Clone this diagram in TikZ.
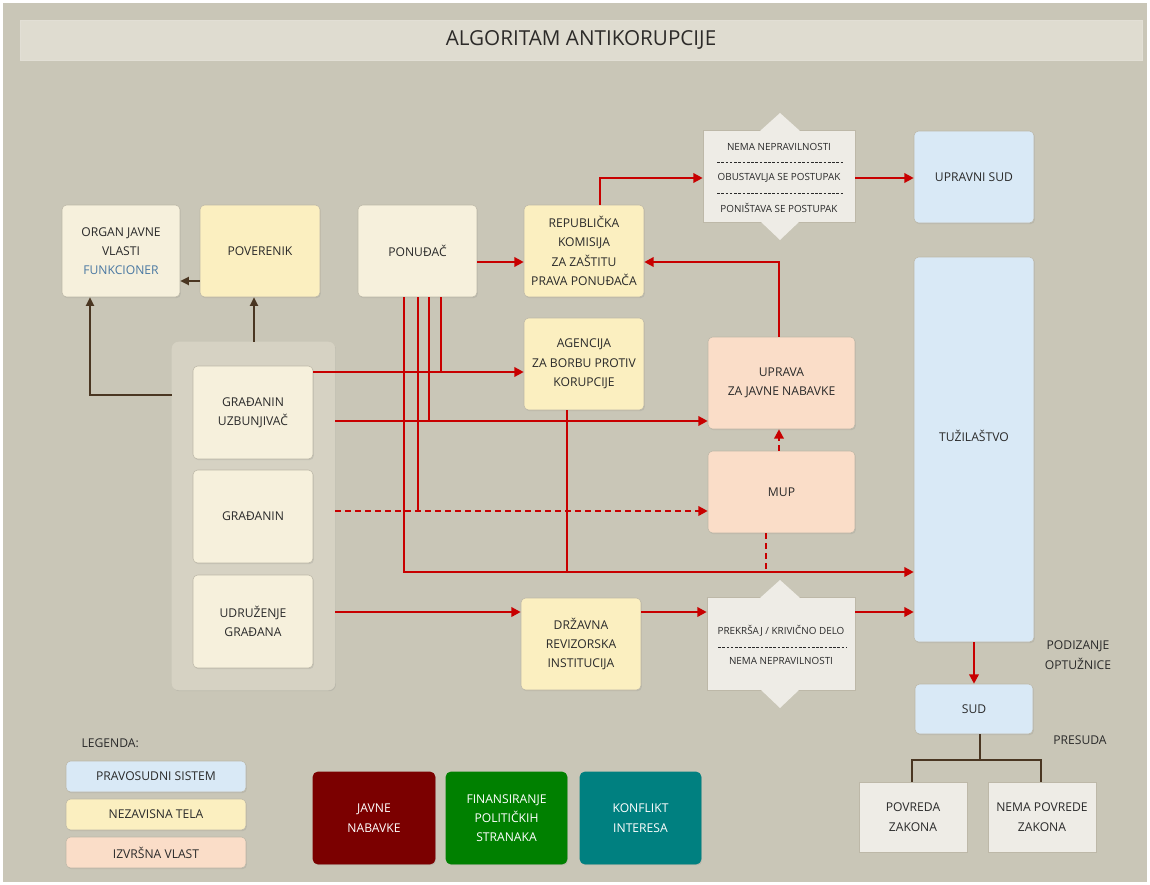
\documentclass[tikz,border=0pt]{standalone}
\usepackage{fontspec}
\setmainfont{Open Sans}
\usetikzlibrary{arrows.meta,shadows,calc}
\definecolor{bgc}{HTML}{C9C6B7}
\definecolor{titlec}{HTML}{DFDCD0}
\definecolor{grpc}{HTML}{D6D2C3}
\definecolor{cream}{HTML}{F6F0DC}
\definecolor{yell}{HTML}{FBEFC0}
\definecolor{peach}{HTML}{FADDC8}
\definecolor{blu}{HTML}{D9E9F6}
\definecolor{gryb}{HTML}{EEECE6}
\definecolor{redc}{HTML}{C80000}
\definecolor{brn}{HTML}{4A3622}
\definecolor{txt}{HTML}{2A2A2A}
\definecolor{funk}{HTML}{4A78A2}
\definecolor{bord}{HTML}{BDB8A8}
\definecolor{jnc}{HTML}{7B0000}
\definecolor{finc}{HTML}{008000}
\definecolor{kic}{HTML}{008080}
\newcommand{\mybody}{\fontsize{9.1}{14.5}\selectfont}
\newcommand{\mysmall}{\fontsize{7.4}{9}\selectfont}
\tikzset{
  bx/.style={rounded corners=3.5pt, draw=bord, line width=0.4pt, align=center, text=txt,
    font=\mybody, inner sep=2pt,
    drop shadow={shadow xshift=0.7pt, shadow yshift=-0.9pt, opacity=0.2}},
  sz/.style 2 args={minimum width=#1*0.75pt, minimum height=#2*0.75pt},
  rl/.style={draw=redc, line width=2.1pt},
  ra/.style={rl, -{Triangle[length=7pt,width=7pt]}},
  bl/.style={draw=brn, line width=1.9pt},
  ba/.style={bl, -{Triangle[length=6.5pt,width=6pt]}},
  dsh/.style={dash pattern=on 4.5pt off 3pt},
  sep/.style={draw=txt, line width=0.6pt, dash pattern=on 2pt off 1.2pt},
  lbl/.style={text=txt, font=\mybody, align=center, inner sep=1pt},
  sml/.style={text=txt, font=\mysmall, inner sep=1pt},
}
\begin{document}
\begin{tikzpicture}[x=0.75pt,y=-0.75pt]
\fill[white] (0,0) rectangle (1150,885);
\useasboundingbox (0,0) rectangle (1150,885);
\fill[bgc] (3,3) rectangle (1147,882);
% title
\node[fill=titlec, draw=titlec!90!white, sz={1122}{40}, inner sep=0pt, text=txt!90!brn,
  font=\fontsize{15.5}{17}\selectfont] (title) at (581,40) {ALGORITAM ANTIKORUPCIJE};

% helper coordinates
\foreach \v in {90,254,404,418,429,441,567,600,766,779,912,980,1041}
  \coordinate (v\v) at (\v,0);
\foreach \h in {178,262,281,372,395,421,511,572,612,760}
  \coordinate (h\h) at (0,\h);

% top row
\node[bx, fill=cream, sz={118}{92}] (organ) at (121,251)
  {ORGAN JAVNE\\VLASTI\\{\color{funk}FUNKCIONER}};
\node[bx, fill=yell, sz={120}{92}] (pov) at (260,251) {POVERENIK};
\node[bx, fill=cream, sz={119}{92}] (pon) at (417.5,251) {PONUĐAČ};
\node[bx, fill=yell, sz={120}{92}] (rep) at (584,251)
  {REPUBLIČKA\\KOMISIJA\\ZA ZAŠTITU\\PRAVA PONUĐAČA};

% decision box 1
\node[bx, fill=gryb, sz={152}{92}, rounded corners=0pt] (nema) at (779,176) {};
\fill[gryb] (760,131) -- (780,113) -- (800,131) -- cycle;
\fill[gryb] (760,221) -- (780,240) -- (800,221) -- cycle;
\node[sml] (n1) at (779,146.5) {NEMA NEPRAVILNOSTI};
\node[sml] (n2) at (779,178) {OBUSTAVLJA SE POSTUPAK};
\node[sml] (n3) at (779,208) {PONIŠTAVA SE POSTUPAK};
\draw[sep] (717,162.5) -- (843,162.5);
\draw[sep] (717,193) -- (843,193);

\node[bx, fill=blu, sz={120}{92}] (upsud) at (974,177) {UPRAVNI SUD};
\node[bx, fill=blu, sz={120}{385}] (tuz) at (974,449.5) {};
\node[lbl] (tuzt) at (974,436) {TUŽILAŠTVO};

\node[bx, fill=yell, sz={120}{92}] (agen) at (584,364)
  {AGENCIJA\\ZA BORBU PROTIV\\KORUPCIJE};
\node[bx, fill=peach, sz={147}{92}] (uprava) at (781.5,383)
  {UPRAVA\\ZA JAVNE NABAVKE};
\node[bx, fill=peach, sz={147}{82}] (mup) at (781.5,492) {MUP};

% citizens group
\node[bx, fill=grpc, draw=grpc, sz={163}{348}, rounded corners=5pt] (group) at (253.5,516) {};
\node[bx, fill=cream, sz={120}{93}] (gu) at (253,412.5) {GRAĐANIN\\UZBUNJIVAČ};
\node[bx, fill=cream, sz={120}{93}] (gr) at (253,516.5) {GRAĐANIN};
\node[bx, fill=cream, sz={120}{93}] (ud) at (253,621.5) {UDRUŽENJE\\GRAĐANA};

\node[bx, fill=yell, sz={120}{92}] (drz) at (581,644)
  {DRŽAVNA\\REVIZORSKA\\INSTITUCIJA};

% decision box 2
\node[bx, fill=gryb, sz={148}{93}, rounded corners=0pt] (prek) at (781,643.5) {};
\fill[gryb] (760,598) -- (780,580) -- (800,598) -- cycle;
\fill[gryb] (760,689) -- (780,708) -- (800,689) -- cycle;
\node[sml] (p1) at (781,631) {PREKRŠAJ / KRIVIČNO DELO};
\node[sml] (p2) at (781,661) {NEMA NEPRAVILNOSTI};
\draw[sep] (718,647.5) -- (847,647.5);

\node[bx, fill=blu, sz={118}{50}] (sud) at (974,709) {SUD};
\node[lbl] (podiz) at (1078,655) {PODIZANJE\\OPTUŽNICE};
\node[lbl] (presuda) at (1080,740) {PRESUDA};
\node[bx, fill=gryb, sz={108}{70}, rounded corners=0pt] (povz) at (913,817) {POVREDA\\ZAKONA};
\node[bx, fill=gryb, sz={108}{70}, rounded corners=0pt] (nemapz) at (1042,817) {NEMA POVREDE\\ZAKONA};

% legend
\node[lbl, anchor=west] (leg) at (80,743) {LEGENDA:};
\node[bx, fill=blu, sz={180}{31}] (l1) at (156,776.5) {PRAVOSUDNI SISTEM};
\node[bx, fill=yell, sz={180}{31}] (l2) at (156,814.5) {NEZAVISNA TELA};
\node[bx, fill=peach, sz={180}{31}] (l3) at (156,852.5) {IZVRŠNA VLAST};

\node[bx, fill=jnc, draw=jnc, text=white, sz={122}{92}] (jn) at (374,818) {JAVNE\\NABAVKE};
\node[bx, fill=finc, draw=finc, text=white, sz={121}{92}] (fin) at (506.5,818)
  {FINANSIRANJE\\POLITIČKIH\\STRANAKA};
\node[bx, fill=kic, draw=kic, text=white, sz={121}{92}] (ki) at (640.5,818) {KONFLIKT\\INTERESA};

% brown connectors
\draw[ba] (pov.west |- h281) -- (organ.east |- h281);
\draw[ba] (group.west |- h395) -| (organ.south -| v90);
\draw[ba] (group.north -| v254) -- (pov.south -| v254);
\draw[bl] (sud.south -| v980) -- (v980 |- h760);
\draw[bl] (povz.north -| v912) |- (v1041 |- h760) -- (nemapz.north -| v1041);

% red connectors
\draw[ra] (pon.east |- h262) -- (rep.west |- h262);
\draw[ra] (rep.north -| v600) |- (nema.west |- h178);
\draw[ra] (nema.east |- h178) -- (upsud.west |- h178);
\draw[ra] (uprava.north -| v779) |- (rep.east |- h262);
\draw[ra] (gu.east |- h372) -- (agen.west |- h372);
\draw[ra] (group.east |- h421) -- (uprava.west |- h421);
\draw[ra, dsh] (group.east |- h511) -- (mup.west |- h511);
\draw[ra] (group.east |- h612) -- (drz.west |- h612);
\draw[ra] (drz.east |- h612) -- (prek.west |- h612);
\draw[ra] (prek.east |- h612) -- (tuz.west |- h612);
\draw[rl] (pon.south -| v441) -- (v441 |- h372);
\draw[rl] (pon.south -| v429) -- (v429 |- h421);
\draw[rl] (pon.south -| v418) -- (v418 |- h511);
\draw[ra] (pon.south -| v404) |- (tuz.west |- h572);
\draw[rl] (agen.south -| v567) -- (v567 |- h572);
\draw[rl, dsh] (mup.south -| v766) -- (v766 |- h572);
\draw[ra, dsh] (mup.north -| v779) -- (uprava.south -| v779);
\draw[ra] (tuz.south) -- (sud.north);
\end{tikzpicture}
\end{document}
